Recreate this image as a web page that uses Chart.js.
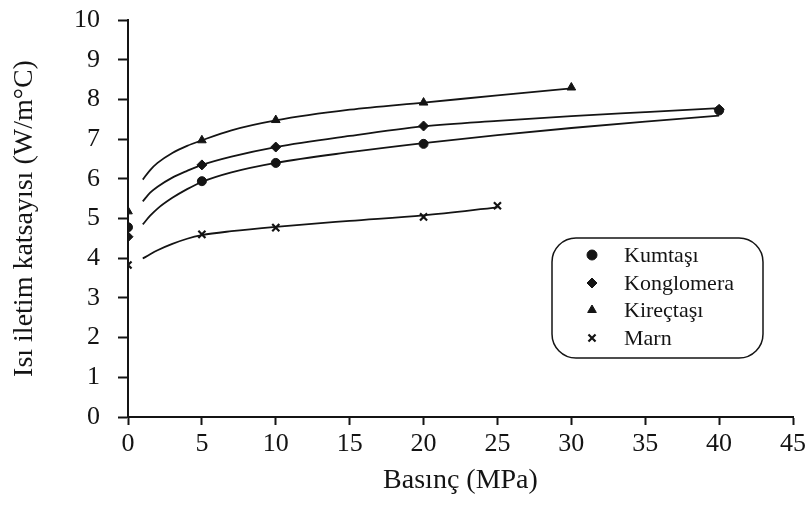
<!DOCTYPE html>
<html>
<head>
<meta charset="utf-8">
<script src="https://cdn.jsdelivr.net/npm/chart.js@4.4.1/dist/chart.umd.min.js"></script>
<style>
  body { margin: 0; background: #fff; }
  #wrap { width: 811px; height: 510px; }
</style>
</head>
<body>
<div id="wrap"><canvas id="chart" width="811" height="510"></canvas></div>
<script>
// Measured points (Basınç MPa -> Isı iletim katsayısı W/m°C)
const kumtasiX = [0, 5, 10, 20, 40];
const kumtasiY = [4.78, 5.94, 6.40, 6.88, 7.72];
const konglomeraX = [0, 5, 10, 20, 40];
const konglomeraY = [4.54, 6.35, 6.80, 7.33, 7.75];
const kirectasiX = [0, 5, 10, 20, 30];
const kirectasiY = [5.18, 6.97, 7.48, 7.92, 8.30];
const marnX = [0, 5, 10, 20, 25];
const marnY = [3.83, 4.60, 4.77, 5.04, 5.32];

// Fitted curves
const kumtasiFitX = [1, 1.5, 2, 3, 4, 5, 7, 10, 15, 20, 25, 30, 35, 40];
const kumtasiFitY = [4.85, 5.07, 5.25, 5.52, 5.74, 5.92, 6.16, 6.40, 6.67, 6.90, 7.10, 7.28, 7.44, 7.59];
const konglomeraFitX = [1, 1.5, 2, 3, 4, 5, 7, 10, 15, 20, 25, 30, 35, 40];
const konglomeraFitY = [5.43, 5.65, 5.80, 6.03, 6.20, 6.35, 6.56, 6.80, 7.08, 7.32, 7.46, 7.58, 7.68, 7.78];
const kirectasiFitX = [1, 1.5, 2, 3, 4, 5, 7, 10, 15, 20, 25, 30];
const kirectasiFitY = [5.98, 6.22, 6.40, 6.65, 6.83, 6.97, 7.22, 7.47, 7.74, 7.92, 8.10, 8.28];
const marnFitX = [1, 1.5, 2, 3, 4, 5, 7, 10, 15, 20, 25];
const marnFitY = [3.99, 4.10, 4.20, 4.36, 4.49, 4.58, 4.68, 4.79, 4.94, 5.08, 5.28];

const xTicks = [0, 5, 10, 15, 20, 25, 30, 35, 40, 45];
const yTicks = [0, 1, 2, 3, 4, 5, 6, 7, 8, 9, 10];

const seriesNames = ['Kumtaşı', 'Konglomera', 'Kireçtaşı', 'Marn'];
const seriesStyles = ['circle', 'rectRot', 'triangle', 'crossRot'];

const ink = '#141414';
const serif = "'Liberation Serif', 'Times New Roman', serif";

const toPoints = (xs, ys) => xs.map((x, i) => ({ x, y: ys[i] }));

const markerSets = [
  toPoints(kumtasiX, kumtasiY),
  toPoints(konglomeraX, konglomeraY),
  toPoints(kirectasiX, kirectasiY),
  toPoints(marnX, marnY)
];
const fitSets = [
  toPoints(kumtasiFitX, kumtasiFitY),
  toPoints(konglomeraFitX, konglomeraFitY),
  toPoints(kirectasiFitX, kirectasiFitY),
  toPoints(marnFitX, marnFitY)
];

const datasets = [];
fitSets.forEach((pts, i) => {
  datasets.push({
    label: seriesNames[i] + ' fit',
    data: pts,
    showLine: true,
    borderColor: ink,
    borderWidth: 1.8,
    pointRadius: 0,
    cubicInterpolationMode: 'monotone'
  });
});
markerSets.forEach((pts, i) => {
  datasets.push({
    label: seriesNames[i],
    data: pts,
    showLine: false,
    pointStyle: seriesStyles[i],
    pointRadius: seriesStyles[i] === 'circle' ? 4.5 : 5,
    pointBorderWidth: seriesStyles[i] === 'crossRot' ? 2.2 : 1,
    backgroundColor: ink,
    borderColor: ink
  });
});

// rounded legend box drawn on the canvas
const boxLegend = {
  id: 'boxLegend',
  afterDraw(chart) {
    const ctx = chart.ctx;
    const bx = 552, by = 238, bw = 211, bh = 120, r = 24;
    ctx.save();
    ctx.strokeStyle = ink;
    ctx.lineWidth = 1.5;
    ctx.beginPath();
    ctx.roundRect(bx, by, bw, bh, r);
    ctx.stroke();
    const rows = [255, 283, 310, 338];
    ctx.font = '22px ' + serif;
    ctx.textBaseline = 'middle';
    seriesNames.forEach((name, i) => {
      ctx.fillStyle = ink;
      ctx.strokeStyle = ink;
      ctx.lineWidth = seriesStyles[i] === 'crossRot' ? 2.2 : 1;
      Chart.helpers.drawPoint(ctx, {
        pointStyle: seriesStyles[i],
        radius: 5,
        rotation: 0,
        borderWidth: ctx.lineWidth
      }, 592, rows[i]);
      ctx.fillText(name, 624, rows[i] + 1);
    });
    ctx.restore();
  }
};

new Chart(document.getElementById('chart'), {
  type: 'scatter',
  data: { datasets },
  plugins: [boxLegend],
  options: {
    responsive: false,
    animation: false,
    layout: { padding: { left: 0, right: 18, top: 20, bottom: 0 } },
    plugins: {
      legend: { display: false },
      tooltip: { enabled: false }
    },
    scales: {
      x: {
        type: 'linear',
        min: 0,
        max: 45,
        afterBuildTicks: s => { s.ticks = xTicks.map(v => ({ value: v })); },
        afterFit: s => { s.height = 93; s.paddingLeft = 0; s.paddingRight = 0; },
        grid: {
          drawOnChartArea: false,
          drawTicks: true,
          tickLength: 8,
          tickColor: ink,
          tickWidth: 2
        },
        border: { display: true, color: ink, width: 2 },
        ticks: {
          color: ink,
          padding: 4,
          maxRotation: 0,
          font: { family: serif, size: 26 }
        },
        title: {
          display: true,
          text: 'Basınç (MPa)',
          color: ink,
          padding: { top: 0, bottom: 13 },
          font: { family: serif, size: 28 }
        }
      },
      y: {
        type: 'linear',
        min: 0,
        max: 10,
        afterBuildTicks: s => { s.ticks = yTicks.map(v => ({ value: v })); },
        afterFit: s => { s.width = 128; s.paddingTop = 0; s.paddingBottom = 0; },
        grid: {
          drawOnChartArea: false,
          drawTicks: true,
          tickLength: 10,
          tickColor: ink,
          tickWidth: 2
        },
        border: { display: true, color: ink, width: 2 },
        ticks: {
          color: ink,
          padding: 18,
          font: { family: serif, size: 26 }
        },
        title: {
          display: true,
          text: 'Isı iletim katsayısı (W/m°C)',
          color: ink,
          padding: { top: 8, bottom: 0 },
          font: { family: serif, size: 28 }
        }
      }
    }
  }
});
</script>
</body>
</html>
